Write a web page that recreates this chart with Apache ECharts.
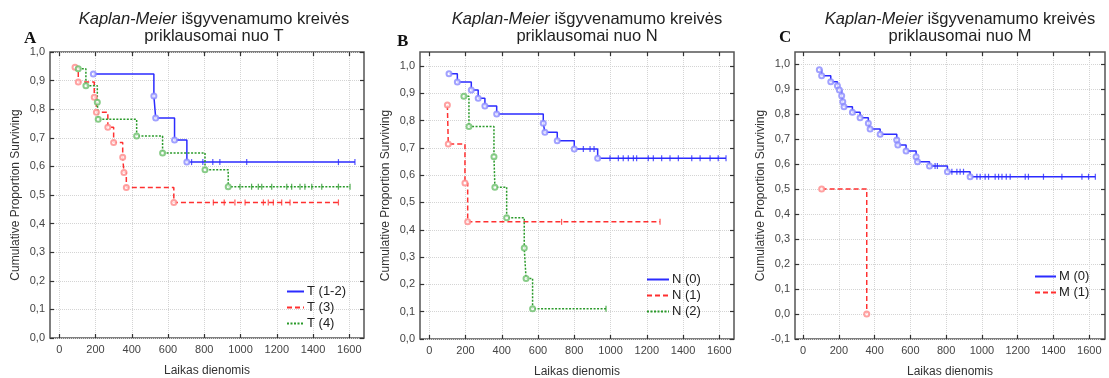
<!DOCTYPE html>
<html>
<head>
<meta charset="utf-8">
<script src="https://cdn.jsdelivr.net/npm/echarts@6/dist/echarts.min.js"></script>
<style>
  html, body { margin: 0; padding: 0; background: #fff; }
  #chart { width: 1109px; height: 378px; }
</style>
</head>
<body>
<div id="chart"></div>
<script>
  'use strict'
  /*----- tick labels -----*/
  var xTicks = [0, 200, 400, 600, 800, 1000, 1200, 1400, 1600];
  var yTicksAB = [0, 0.1, 0.2, 0.3, 0.4, 0.5, 0.6, 0.7, 0.8, 0.9, 1.0];
  var yTicksC = [-0.1, 0, 0.1, 0.2, 0.3, 0.4, 0.5, 0.6, 0.7, 0.8, 0.9, 1.0];

  /*----- A: by T -----*/
  var aT12Times = [188, 522, 532, 636, 704];
  var aT12Surv = [0.923, 0.846, 0.769, 0.692, 0.615];
  var aT12Cens = [730, 792, 847, 886, 1034, 1540, 1631];

  var aT3Times = [87, 105, 193, 205, 268, 300, 350, 357, 370, 632];
  var aT3Surv = [0.947, 0.895, 0.842, 0.789, 0.737, 0.684, 0.632, 0.579, 0.526, 0.474];
  var aT3Cens = [850, 910, 969, 1025, 1126, 1153, 1181, 1227, 1273, 1540];

  var aT4Times = [105, 147, 210, 215, 427, 570, 804, 932];
  var aT4Surv = [0.941, 0.882, 0.824, 0.765, 0.706, 0.647, 0.588, 0.529];
  var aT4Cens = [997, 1061, 1098, 1117, 1172, 1255, 1282, 1328, 1355, 1393, 1448, 1540, 1604];

  /*----- B: by N -----*/
  var bN0Times = [109, 155, 232, 270, 307, 372, 629, 638, 706, 800, 929];
  var bN0Surv = [0.971, 0.941, 0.912, 0.882, 0.853, 0.824, 0.790, 0.757, 0.726, 0.696, 0.662];
  var bN0Cens = [850, 887, 909, 997, 1043, 1070, 1098, 1126, 1144, 1208, 1236, 1282, 1328, 1374, 1448, 1494, 1549, 1594, 1637];

  var bN1Times = [100, 105, 197, 212];
  var bN1Surv = [0.857, 0.714, 0.571, 0.429];
  var bN1Cens = [730, 1273];

  var bN2Times = [191, 219, 357, 362, 427, 524, 534, 570];
  var bN2Surv = [0.889, 0.778, 0.667, 0.556, 0.444, 0.333, 0.222, 0.111];
  var bN2Cens = [975];

  /*----- C: by M -----*/
  var cM0Times = [91, 104, 155, 192, 203, 216, 222, 229, 276, 319, 365, 375, 431, 524, 530, 576, 632, 640, 707, 807, 934];
  var cM0Surv = [0.977, 0.953, 0.929, 0.913, 0.896, 0.873, 0.849, 0.829, 0.807, 0.785, 0.763, 0.740, 0.719, 0.696, 0.676, 0.652, 0.629, 0.609, 0.592, 0.569, 0.549];
  var cM0Cens = [738, 751, 832, 860, 878, 897, 972, 990, 1018, 1037, 1074, 1093, 1112, 1136, 1158, 1242, 1260, 1344, 1447, 1559, 1596, 1634];

  var cM1Times = [104, 356];
  var cM1Surv = [0.5, 0.0];
  var cM1Cens = [];

  var BLUE = '#2b2bff', RED = '#ff3030', GREEN = '#2a9a2a';
  var BLUE_L = '#8a8aff', RED_L = '#ff8a8a', GREEN_L = '#6cbf6c';

  var panels = [
    {
      grid: { left: 50, top: 52, width: 314, height: 286 },
      xMin: -51, xMax: 1681, yMin: 0, yMax: 1.0, yTicks: yTicksAB,
      letter: 'A', letterX: 24, letterY: 30, titleX: 209,
      titleEnd: 'T', legend: { left: 286, top: 285, itemWidth: 17 },
      groups: [
        { name: 'T (1-2)', color: BLUE, light: BLUE_L, dash: 'solid', t: aT12Times, s: aT12Surv, c: aT12Cens },
        { name: 'T (3)', color: RED, light: RED_L, dash: [5, 3], t: aT3Times, s: aT3Surv, c: aT3Cens },
        { name: 'T (4)', color: GREEN, light: GREEN_L, dash: [2, 1.5], t: aT4Times, s: aT4Surv, c: aT4Cens }
      ]
    },
    {
      grid: { left: 420, top: 52, width: 314, height: 287 },
      xMin: -51, xMax: 1681, yMin: 0, yMax: 1.051, yTicks: yTicksAB,
      letter: 'B', letterX: 397, letterY: 33, titleX: 582,
      titleEnd: 'N', legend: { left: 646, top: 273, itemWidth: 22 },
      groups: [
        { name: 'N (0)', color: BLUE, light: BLUE_L, dash: 'solid', t: bN0Times, s: bN0Surv, c: bN0Cens },
        { name: 'N (1)', color: RED, light: RED_L, dash: [5, 3], t: bN1Times, s: bN1Surv, c: bN1Cens },
        { name: 'N (2)', color: GREEN, light: GREEN_L, dash: [2, 1.5], t: bN2Times, s: bN2Surv, c: bN2Cens }
      ]
    },
    {
      grid: { left: 795, top: 52, width: 310, height: 287 },
      xMin: -45, xMax: 1688, yMin: -0.1, yMax: 1.048, yTicks: yTicksC,
      letter: 'C', letterX: 779, letterY: 29, titleX: 955,
      titleEnd: 'M', legend: { left: 1034, top: 270, itemWidth: 21 },
      groups: [
        { name: 'M (0)', color: BLUE, light: BLUE_L, dash: 'solid', t: cM0Times, s: cM0Surv, c: cM0Cens },
        { name: 'M (1)', color: RED, light: RED_L, dash: [5, 3], t: cM1Times, s: cM1Surv, c: cM1Cens }
      ]
    }
  ];

  function survAt(times, surv, x) {
    var v = surv[0];
    for (var i = 0; i < times.length; i++) {
      if (times[i] <= x) v = surv[i];
    }
    return v;
  }

  function fmtY(v) {
    return Number(v).toFixed(1).replace('.', ',');
  }
  function fmtX(v) {
    return String(Math.round(v));
  }

  var grids = [], xAxes = [], yAxes = [], series = [], legends = [], titles = [], graphics = [];

  panels.forEach(function (p, k) {
    grids.push(Object.assign({
      show: true, borderColor: '#555', borderWidth: 1.5, backgroundColor: '#fff',
      containLabel: false, outerBoundsMode: 'none'
    }, p.grid));

    var xBase = {
      gridIndex: k, type: 'value', min: p.xMin, max: p.xMax,
      axisLine: { show: false, onZero: false },
      axisTick: { show: true, inside: true, length: 4, customValues: xTicks, lineStyle: { color: '#333', width: 1.2 } },
      splitLine: { show: false }
    };
    xAxes.push(Object.assign({}, xBase, {
      position: 'bottom',
      axisLabel: { customValues: xTicks, formatter: fmtX, color: '#444', fontSize: 11, fontFamily: 'Liberation Sans', margin: 6 },
      splitLine: { show: true, lineStyle: { color: '#d4d4d4', type: 'dotted', width: 1 } },
      name: 'Laikas dienomis', nameLocation: 'middle', nameGap: 27,
      nameTextStyle: { color: '#333', fontSize: 12, fontFamily: 'Liberation Sans' }
    }));
    xAxes.push(Object.assign({}, xBase, { position: 'top', axisLabel: { show: false } }));

    var yBase = {
      gridIndex: k, type: 'value', min: p.yMin, max: p.yMax,
      axisLine: { show: false, onZero: false },
      axisTick: { show: true, inside: true, length: 4, customValues: p.yTicks, lineStyle: { color: '#333', width: 1.2 } },
      splitLine: { show: false }
    };
    yAxes.push(Object.assign({}, yBase, {
      position: 'left',
      axisLabel: { customValues: p.yTicks, formatter: fmtY, color: '#444', fontSize: 11, fontFamily: 'Liberation Sans', margin: 5 },
      splitLine: { show: true, lineStyle: { color: '#d4d4d4', type: 'dotted', width: 1 } },
      name: 'Cumulative Proportion Surviving', nameLocation: 'middle', nameGap: 28,
      nameTextStyle: { color: '#333', fontSize: 12, fontFamily: 'Liberation Sans' }
    }));
    yAxes.push(Object.assign({}, yBase, { position: 'right', axisLabel: { show: false } }));

    var names = [];
    p.groups.forEach(function (g) {
      names.push(g.name);
      var line = g.t.map(function (t, i) { return [t, g.s[i]]; });
      var lastC = g.c.length ? g.c[g.c.length - 1] : null;
      if (lastC !== null && lastC > g.t[g.t.length - 1]) line.push([lastC, g.s[g.s.length - 1]]);
      series.push({
        name: g.name, type: 'line', xAxisIndex: 2 * k, yAxisIndex: 2 * k,
        step: 'end', symbol: 'none', data: line, z: 3,
        itemStyle: { color: g.color },
        lineStyle: { color: g.color, width: 1.5, type: g.dash }
      });
      series.push({
        name: g.name + ' events', type: 'scatter', xAxisIndex: 2 * k, yAxisIndex: 2 * k,
        symbol: 'emptyCircle', symbolSize: 5, z: 4,
        itemStyle: { color: g.light, borderColor: g.light, borderWidth: 1 },
        data: g.t.map(function (t, i) { return [t, g.s[i]]; })
      });
      series.push({
        name: g.name + ' censored', type: 'scatter', xAxisIndex: 2 * k, yAxisIndex: 2 * k,
        symbol: 'rect', symbolSize: [1.2, 6], z: 4,
        itemStyle: { color: g.color },
        data: g.c.map(function (c) { return [c, survAt(g.t, g.s, c)]; })
      });
    });

    legends.push({
      data: names, orient: 'vertical', left: p.legend.left, top: p.legend.top,
      itemWidth: p.legend.itemWidth, itemHeight: 10, itemGap: 3,
      selectedMode: false, padding: 0,
      itemStyle: { opacity: 0 },
      textStyle: { color: '#222', fontSize: 13, fontFamily: 'Liberation Sans', padding: [0, 0, 0, -2] }
    });

    titles.push({
      text: '{i|Kaplan-Meier} išgyvenamumo kreivės\npriklausomai nuo ' + p.titleEnd,
      left: p.titleX, top: 6, textAlign: 'center',
      textStyle: {
        color: '#222', fontSize: 16.5, fontWeight: 'normal', fontFamily: 'Liberation Sans', lineHeight: 17,
        rich: { i: { fontStyle: 'italic', fontSize: 16.5, fontFamily: 'Liberation Sans', color: '#222', lineHeight: 17 } }
      }
    });

    graphics.push({
      type: 'text', left: p.letterX, top: p.letterY,
      style: { text: p.letter, font: 'bold 17px "Liberation Serif"', fill: '#111' }
    });
  });

  var chart = echarts.init(document.getElementById('chart'));
  chart.setOption({
    animation: false,
    backgroundColor: '#fff',
    title: titles,
    legend: legends,
    grid: grids,
    xAxis: xAxes,
    yAxis: yAxes,
    graphic: graphics,
    series: series
  });
</script>
</body>
</html>
